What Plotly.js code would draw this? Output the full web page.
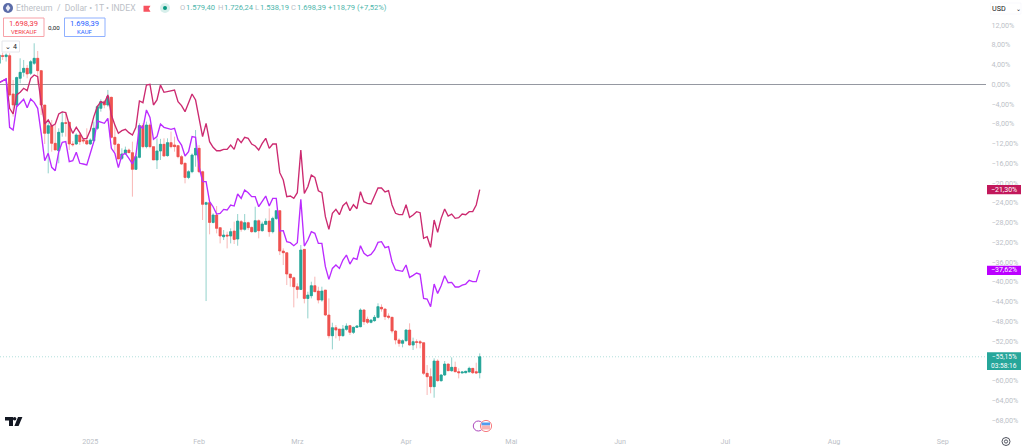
<!DOCTYPE html>
<html><head><meta charset="utf-8">
<script src="https://cdn.plot.ly/plotly-3.0.1.min.js"></script>
<style>html,body{margin:0;padding:0;background:#fff}#c{width:1024px;height:448px}</style>
</head><body><div id="c"></div>
<script>
const startDate = '2024-12-06';
const opens = [4.25,5.8,5.6,5.8,-1.96,-4.19,1.21,2.42,3.23,2.22,4.25,5.26,2.76,-4.19,-9.92,-8.37,-11.95,-13.43,-9.72,-7.76,-7.7,-12.08,-12.08,-10.26,-11.27,-11.41,-12.08,-11.41,-8.91,-4.86,-3.51,-4.19,-2.64,-10.73,-12.15,-14.98,-13.97,-13.3,-13.84,-17.21,-14.78,-8.37,-12.62,-8.24,-12.62,-15.32,-13.5,-12.15,-14.44,-11.81,-12.28,-12.42,-14.65,-16.0,-18.84,-17.69,-14.32,-12.97,-17.69,-24.3,-23.96,-27.95,-26.46,-29.02,-30.85,-30.51,-30.71,-29.7,-31.32,-27.81,-29.36,-28.01,-28.96,-29.83,-27.61,-29.63,-28.35,-27.68,-29.83,-27.14,-25.58,-33.75,-34.09,-38.4,-39.15,-40.97,-41.51,-33.41,-43.33,-42.79,-40.77,-41.85,-43.67,-41.64,-46.7,-50.89,-49.27,-49.54,-50.88,-49.6,-48.86,-50.21,-49.19,-49.06,-45.68,-47.57,-48.18,-47.84,-47.17,-45.14,-45.48,-46.9,-47.17,-49.94,-51.76,-52.43,-51.89,-49.73,-52.77,-52.1,-52.1,-52.3,-58.5,-59.18,-61.2,-56.01,-59.99,-58.84,-56.62,-57.97,-57.29,-58.17,-58.44,-58.37,-58.23,-57.49,-58.17,-58.37];
const highs = [6.27,6.4,6.27,6.27,0.87,1.55,5.26,4.92,3.91,4.92,8.3,6.74,2.9,-4.19,-7.22,-7.22,-8.24,-8.91,-5.54,-5.87,-7.56,-11.5,-9.92,-9.92,-10.9,-8.91,-10.94,-7.56,-4.19,-3.04,-3.2,-1.15,-2.5,-8.04,-11.95,-12.96,-12.62,-13.0,-11.61,-13.97,-7.9,-7.9,-7.56,-7.9,-12.62,-10.94,-11.05,-10.94,-10.94,-9.58,-10.6,-12.28,-14.3,-15.8,-17.4,-14.0,-9.26,-12.3,-17.5,-23.76,-23.76,-26.12,-24.64,-29.02,-29.5,-29.83,-29.16,-27.81,-26.26,-27.47,-26.26,-27.81,-28.82,-24.77,-27.34,-27.81,-27.14,-25.11,-26.8,-25.58,-25.45,-33.21,-34.09,-38.4,-38.94,-40.29,-32.53,-33.41,-41.98,-39.96,-38.94,-40.97,-40.97,-41.64,-43.33,-48.26,-48.73,-49.54,-48.72,-48.38,-48.72,-49.06,-48.8,-45.35,-45.48,-47.03,-47.57,-46.7,-44.33,-44.54,-45.35,-46.36,-47.03,-49.73,-51.42,-51.62,-49.6,-48.38,-51.28,-51.62,-51.76,-52.3,-56.82,-57.49,-55.47,-55.67,-58.64,-56.01,-56.48,-55.27,-56.14,-57.49,-58.1,-57.97,-57.15,-57.49,-56.35,-54.46];
const lows = [1.55,4.92,4.6,-2.5,-6.55,-4.53,0.2,1.55,1.21,1.88,3.91,-0.14,-6.21,-12.08,-18.02,-13.64,-13.3,-15.99,-10.6,-10.6,-13.3,-12.6,-12.28,-12.28,-12.0,-12.28,-12.28,-11.61,-9.25,-5.54,-4.86,-4.53,-10.94,-13.64,-15.12,-15.32,-14.31,-13.9,-22.74,-17.35,-14.98,-12.96,-12.96,-12.96,-15.32,-17.14,-15.32,-14.65,-14.65,-12.96,-13.64,-14.98,-16.3,-20.05,-19.2,-18.0,-16.68,-18.0,-27.47,-43.87,-30.37,-28.15,-30.17,-32.2,-31.52,-33.21,-32.2,-32.33,-32.67,-29.83,-29.63,-29.5,-30.04,-30.04,-31.18,-29.83,-28.49,-30.85,-30.17,-27.47,-34.56,-36.58,-40.63,-40.97,-45.15,-43.33,-41.64,-44.34,-47.38,-43.33,-41.98,-44.34,-44.0,-46.91,-51.43,-53.65,-51.43,-51.9,-51.08,-49.87,-50.74,-50.54,-49.3,-49.19,-48.72,-48.52,-48.38,-48.05,-47.37,-46.02,-47.71,-47.57,-50.41,-52.63,-53.11,-53.24,-52.1,-52.9,-53.78,-53.44,-53.44,-58.84,-62.89,-62.55,-63.43,-60.19,-60.19,-59.04,-58.03,-58.17,-58.3,-59.52,-58.5,-58.5,-58.3,-58.64,-58.64,-59.52];
const closes = [5.93,5.65,5.93,-2.16,-4.19,1.35,2.42,3.23,2.09,4.58,5.26,2.76,-4.19,-9.92,-8.37,-11.95,-13.3,-9.72,-7.76,-7.9,-12.08,-12.22,-10.26,-11.61,-11.47,-12.08,-11.27,-8.91,-4.53,-3.51,-4.19,-2.5,-10.73,-12.15,-15.12,-14.1,-13.3,-13.84,-17.21,-14.65,-8.37,-12.62,-8.24,-12.62,-15.32,-13.5,-12.15,-14.51,-11.81,-12.62,-12.62,-14.65,-16.14,-18.84,-17.69,-14.32,-12.97,-17.69,-24.3,-23.96,-27.95,-26.46,-29.16,-30.71,-30.51,-30.71,-29.83,-31.39,-27.68,-29.36,-28.01,-29.02,-29.83,-27.61,-29.63,-28.28,-27.74,-29.83,-27.14,-25.58,-33.75,-34.09,-38.4,-39.15,-40.97,-41.51,-33.55,-43.33,-42.66,-40.77,-41.98,-43.67,-41.85,-46.7,-50.89,-49.27,-49.74,-50.89,-49.53,-48.92,-50.21,-49.19,-48.92,-45.68,-48.05,-48.18,-47.71,-47.17,-45.01,-45.48,-47.03,-47.17,-49.94,-51.76,-52.43,-51.89,-49.73,-52.77,-52.1,-52.23,-52.36,-58.5,-59.18,-61.2,-56.01,-59.99,-58.84,-56.62,-57.97,-57.29,-58.17,-58.37,-58.23,-58.1,-57.49,-58.37,-58.44,-55.15];
const crimsonSeries = [0.3,0.74,1.08,-4.86,-6.01,-2.16,-1.62,-0.81,-1.29,1.21,1.88,1.55,-3.85,-8.03,-7.22,-8.44,-8.03,-6.01,-5.6,-5.74,-8.24,-9.92,-8.71,-9.79,-11.07,-10.94,-9.25,-6.55,-4.53,-3.51,-3.85,-2.16,-6.21,-8.24,-9.92,-9.38,-9.11,-9.79,-10.26,-8.71,-3.38,-3.72,-0.14,0.0,-4.19,-3.18,-0.14,-1.62,-1.49,-1.29,-1.15,-3.51,-4.33,-5.54,-3.86,-1.97,-3.18,-6.89,-10.6,-7.91,-11.62,-12.76,-13.44,-13.44,-13.17,-13.17,-12.29,-13.17,-10.94,-11.82,-10.74,-10.94,-12.09,-12.49,-13.3,-11.95,-10.94,-12.97,-12.09,-12.09,-17.89,-19.38,-22.75,-22.62,-23.09,-21.94,-13.3,-22.08,-20.73,-18.37,-18.84,-21.54,-21.94,-26.8,-29.36,-26.12,-25.32,-26.4,-24.57,-23.9,-25.58,-24.37,-25.18,-21.74,-23.76,-24.1,-24.23,-22.61,-20.99,-20.99,-21.8,-21.53,-24.43,-26.12,-26.39,-26.39,-24.37,-26.93,-26.46,-25.78,-25.99,-31.18,-30.85,-33.0,-27.47,-29.97,-27.13,-25.24,-26.66,-26.26,-27.13,-27.0,-26.26,-26.39,-25.78,-25.78,-24.43,-21.3];
const purpleSeries = [0.3,0.74,1.08,-8.71,-9.25,-4.53,-3.85,-3.04,-4.73,-2.97,-3.65,-4.86,-9.92,-15.46,-13.97,-16.81,-17.48,-13.64,-11.75,-11.61,-15.66,-15.46,-13.77,-15.99,-16.13,-16.33,-13.97,-11.61,-7.43,-7.7,-7.9,-6.89,-12.96,-13.97,-16.87,-14.31,-13.97,-14.98,-16.13,-14.31,-8.44,-8.91,-5.2,-6.69,-11.14,-10.6,-8.03,-8.71,-8.91,-9.11,-8.91,-11.27,-12.29,-14.52,-13.64,-10.6,-10.74,-16.68,-19.71,-19.71,-23.76,-24.78,-26.26,-26.12,-25.32,-25.45,-24.44,-24.64,-22.21,-23.09,-21.4,-21.94,-22.75,-22.75,-24.78,-23.56,-22.62,-24.64,-23.09,-23.09,-29.7,-29.63,-31.86,-32.06,-32.67,-32.06,-23.29,-32.74,-31.52,-29.83,-30.17,-32.2,-32.2,-36.92,-39.48,-37.26,-36.58,-37.26,-35.57,-34.56,-36.38,-35.16,-35.43,-32.67,-34.22,-34.76,-34.42,-33.54,-31.99,-31.86,-33.07,-32.87,-35.91,-37.59,-37.8,-37.86,-36.58,-39.08,-38.67,-38.2,-38.47,-43.33,-43.46,-45.02,-40.43,-42.32,-40.76,-38.74,-40.16,-40.09,-41.03,-41.03,-40.63,-40.43,-39.68,-39.95,-39.95,-37.62];
const yTickVals = [12,8,4,0,-4,-8,-12,-16,-20,-24,-28,-32,-36,-40,-44,-48,-52,-60,-64,-68];
const yTickText = ['12,00%','8,00%','4,00%','0,00%','−4,00%','−8,00%','−12,00%','−16,00%','−20,00%','−24,00%','−28,00%','−32,00%','−36,00%','−40,00%','−44,00%','−48,00%','−52,00%','−60,00%','−64,00%','−68,00%'];
const xTickVals = ['2025-01-01','2025-02-01','2025-03-01','2025-04-01','2025-05-01','2025-06-01','2025-07-01','2025-08-01','2025-09-01'];
const xTickText = ['2025','Feb','Mrz','Apr','Mai','Jun','Jul','Aug','Sep'];

const UP='#26a69a', DN='#ef5350', UPW='rgba(38,166,154,0.5)', DNW='rgba(239,83,80,0.42)';
const CRIM='#cc2a70', PUR='#bb2bff', GREY='#bcbfc7', UPTXT='#4db6ac';
const dates = opens.map((_,i)=>new Date(Date.parse(startDate+'T00:00:00Z')+i*864e5).toISOString().slice(0,10));
const W=986,H=430;
const px=x=>x/W, py=y=>1-y/H;
const FONT='Roboto, "Liberation Sans", sans-serif';

const wicks={type:'candlestick',x:dates,open:opens,high:highs,low:lows,close:closes,whiskerwidth:0,hoverinfo:'skip',
  increasing:{line:{color:UPW,width:1},fillcolor:UP},decreasing:{line:{color:DNW,width:1},fillcolor:DN},showlegend:false};
const bodies={type:'candlestick',x:dates,open:opens,close:closes,
  high:opens.map((o,i)=>Math.max(o,closes[i])),low:opens.map((o,i)=>Math.min(o,closes[i])),whiskerwidth:0,hoverinfo:'skip',
  increasing:{line:{color:UP,width:0.4},fillcolor:UP},decreasing:{line:{color:DN,width:0.4},fillcolor:DN},showlegend:false};
const lineA={type:'scatter',mode:'lines',x:dates,y:crimsonSeries,line:{color:CRIM,width:1.35},hoverinfo:'skip',showlegend:false};
const lineB={type:'scatter',mode:'lines',x:dates,y:purpleSeries,line:{color:PUR,width:1.35},hoverinfo:'skip',showlegend:false};

const rect=(x0,y0,x1,y1,fill,line,lw)=>({type:'rect',xref:'paper',yref:'paper',x0:px(x0),x1:px(x1),y0:py(y1),y1:py(y0),fillcolor:fill,line:{color:line||'rgba(0,0,0,0)',width:lw||0},layer:'above'});
const circ=(cx,cy,r,fill,line,lw)=>({type:'circle',xref:'paper',yref:'paper',x0:px(cx-r),x1:px(cx+r),y0:py(cy+r),y1:py(cy-r),fillcolor:fill,line:{color:line||'rgba(0,0,0,0)',width:lw||0},layer:'above'});
const poly=(pts,fill)=>({type:'path',xref:'paper',yref:'paper',path:'M'+pts.map(p=>px(p[0])+','+py(p[1])).join('L')+'Z',fillcolor:fill,line:{width:0},layer:'above'});
const txt=(x,y,t,size,color,anchor)=>({xref:'paper',yref:'paper',x:px(x),y:py(y),text:t,showarrow:false,xanchor:anchor||'left',yanchor:'middle',font:{size:size,color:color,family:FONT},borderpad:0,borderwidth:0});

const shapes=[
  {type:'line',xref:'paper',yref:'y',x0:0,x1:1,y0:-55.15,y1:-55.15,line:{color:'rgba(38,166,154,0.45)',width:0.8,dash:'1px,2px'},layer:'below'},
  rect(987,185,1021,194.3,'#c2185b'),
  rect(987,265.7,1021,275,'#bb00ff'),
  rect(987,352.3,1021,370,UP),
  circ(8,8,5,'#5a6ba8'),
  poly([[8,4.5],[10.4,8],[8,11.5],[5.6,8]],'#e8eaf6'),
  poly([[143.5,5.7],[150.5,5.7],[148.7,8.7],[150.5,11.7],[143.5,11.7]],'#f7525f'),
  circ(165,8,5,'rgba(8,153,129,0.16)'),
  circ(165,8,2,'#089981'),
  rect(3.5,18,44,36.5,'#ffffff','#f7a1a8',1),
  rect(64.5,18,105,36.5,'#ffffff','#8fb0ff',1),
  rect(2,41,19.5,52,'#ffffff','#e4e6eb',1),
  rect(990.5,3,1021,14,'#ffffff','#f0f3fa',0.5),
  circ(478.3,426,5,'#ffffff','#ab47bc',1),
  circ(486,426,5.6,'#ffffff','#f77c80',1),
  rect(481.5,422.5,490,425.5,'#4f9cf0'),
  rect(481.5,425.5,490,429.5,'#f8b3b3'),
  poly([[5,417],[13,417],[13,426],[9,426],[9,420.5],[5,420.5]],'#131722'),
  circ(14.6,418.8,1.8,'#131722'),
  poly([[18,417],[22.4,417],[18.6,426],[14.4,426]],'#131722'),
  circ(1006,441.5,4,'#ffffff','#50535e',1),
  circ(1006,441.5,1.6,'#ffffff','#50535e',1)
];

const annotations=[
  txt(16,8,'Ethereum  /  Dollar • 1T • INDEX',8.6,GREY),
  txt(180,8,'O',7.6,GREY),txt(186,8,'1.579,40',7.6,UPTXT),
  txt(217.5,8,'H',7.6,GREY),txt(223.5,8,'1.726,24',7.6,UPTXT),
  txt(255,8,'L',7.6,GREY),txt(259.5,8,'1.538,19',7.6,UPTXT),
  txt(291,8,'C',7.6,GREY),txt(297,8,'1.698,39',7.6,UPTXT),
  txt(328,8,'+118,79 (+7,52%)',7.6,UPTXT),
  txt(23.7,23.5,'1.698,39',7.6,'#f23645','center'),
  txt(23.7,31.5,'VERKAUF',6,'#f23645','center'),
  txt(54,28,'0,00',6.2,'#131722','center'),
  txt(84.7,23.5,'1.698,39',7.6,'#2962ff','center'),
  txt(84.7,31.5,'KAUF',6,'#2962ff','center'),
  txt(7.5,46.5,'⌄',7,'#131722','center'),
  txt(14.5,46.5,'4',7,'#131722','center'),
  txt(991.5,8.5,'USD',7.2,'#131722'),
  txt(1018,8.5,'⌄',6,'#131722','center'),
  txt(1004,189.6,'−21,30%',7,'#ffffff','center'),
  txt(1004,270.3,'−37,62%',7,'#ffffff','center'),
  txt(1004,357,'−55,15%',6.6,'#ffffff','center'),
  txt(1004,365.5,'03:58:16',6.6,'#ffffff','center')
];

const layout={
  width:1024,height:448,paper_bgcolor:'#fff',plot_bgcolor:'#fff',
  margin:{l:0,r:38,t:0,b:18,pad:0},showlegend:false,boxmode:'overlay',boxgap:0.12,
  font:{family:FONT,color:GREY,size:7.2},
  xaxis:{type:'date',range:['2024-12-06 06:10','2025-09-13 07:12'],rangeslider:{visible:false},showgrid:false,zeroline:false,showline:false,
    tickmode:'array',tickvals:xTickVals,ticktext:xTickText,ticks:'outside',ticklen:4,tickcolor:'rgba(0,0,0,0)',tickfont:{size:7.2,color:GREY,family:FONT}},
  yaxis:{side:'right',range:[-69.97,17.06],showgrid:false,showline:false,zeroline:true,zerolinecolor:'#9598a1',zerolinewidth:1,
    tickmode:'array',tickvals:yTickVals,ticktext:yTickText,ticks:'outside',ticklen:3,tickcolor:'rgba(0,0,0,0)',tickfont:{size:7.2,color:GREY,family:FONT}},
  shapes:shapes,annotations:annotations
};
Plotly.newPlot('c',[wicks,bodies,lineA,lineB],layout,{displayModeBar:false,staticPlot:true});
</script></body></html>
